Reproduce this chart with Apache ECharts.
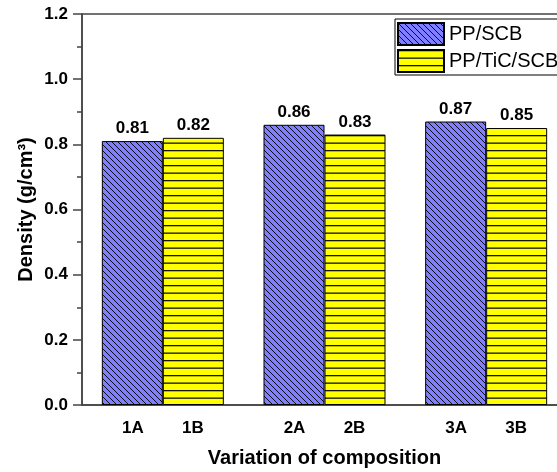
<!DOCTYPE html>
<html>
<head>
<meta charset="utf-8">
<script src="https://cdn.jsdelivr.net/npm/echarts@6/dist/echarts.min.js"></script>
<style>
  html, body { margin: 0; padding: 0; background: #fff; }
  #chart { width: 557px; height: 472px; }
</style>
</head>
<body>
<div id="chart"></div>
<script>
// 数据
var groups = ['1', '2', '3'];
var labelsA = ['1A', '2A', '3A'];
var labelsB = ['1B', '2B', '3B'];
var seriesNames = ['PP/SCB', 'PP/TiC/SCB'];
var scbValues = [0.81, 0.86, 0.87];
var ticValues = [0.82, 0.83, 0.85];
var yTicks = [0.0, 0.2, 0.4, 0.6, 0.8, 1.0, 1.2];

var FONT = 'Liberation Sans';

// 斜线填充
function diagPattern(bg) {
  var c = document.createElement('canvas');
  c.width = 6; c.height = 6;
  var ctx = c.getContext('2d');
  ctx.fillStyle = bg;
  ctx.fillRect(0, 0, 6, 6);
  ctx.strokeStyle = '#000';
  ctx.lineWidth = 0.9;
  ctx.beginPath();
  ctx.moveTo(-6, 0); ctx.lineTo(6, 12);
  ctx.moveTo(-1, -1); ctx.lineTo(7, 7);
  ctx.moveTo(0, -6); ctx.lineTo(12, 6);
  ctx.stroke();
  return { image: c, repeat: 'repeat' };
}
// 横线填充
function horzPattern(bg) {
  var c = document.createElement('canvas');
  c.width = 4; c.height = 15;
  var ctx = c.getContext('2d');
  ctx.fillStyle = bg;
  ctx.fillRect(0, 0, 4, 15);
  ctx.fillStyle = '#111';
  ctx.fillRect(0, 0, 4, 1.3);
  ctx.fillRect(0, 7.5, 4, 1.3);
  return { image: c, repeat: 'repeat' };
}

var axisColor = '#444';
var myChart = echarts.init(document.getElementById('chart'));
var option = {
  animation: false,
  textStyle: { fontFamily: FONT },
  grid: {
    left: 82, right: -10, top: 14, bottom: 67,
    containLabel: false, outerBoundsMode: 'none',
    show: true, borderColor: axisColor, borderWidth: 1.5
  },
  legend: {
    orient: 'vertical',
    left: 395, top: 19,
    padding: [3, 30, 2, 2],
    itemGap: 3,
    itemWidth: 46, itemHeight: 22,
    icon: 'rect',
    borderColor: '#000', borderWidth: 1,
    textStyle: { fontFamily: FONT, fontSize: 20, color: '#000' },
    data: seriesNames
  },
  xAxis: [{
    type: 'category',
    data: groups,
    position: 'bottom',
    name: 'Variation of composition',
    nameLocation: 'middle',
    nameGap: 43,
    nameMoveOverlap: false,
    nameTextStyle: { fontFamily: FONT, fontSize: 20, fontWeight: 'bold', color: '#000' },
    axisLine: { lineStyle: { color: axisColor, width: 1.5 } },
    axisTick: { alignWithLabel: true, length: 8, lineStyle: { color: axisColor, width: 1.5 } },
    axisLabel: {
      margin: 15,
      formatter: function (v, i) {
        return '{a|' + labelsA[i] + '}{b|' + labelsB[i] + '}';
      },
      rich: {
        a: { width: 60, align: 'center', fontFamily: FONT, fontSize: 17, fontWeight: 'bold', color: '#000' },
        b: { width: 60, align: 'center', fontFamily: FONT, fontSize: 17, fontWeight: 'bold', color: '#000' }
      }
    },
    splitLine: { show: false }
  }, {
    type: 'category',
    data: groups,
    position: 'bottom',
    axisLine: { show: false },
    axisTick: { length: 4, lineStyle: { color: axisColor, width: 1.5 } },
    axisLabel: { show: false },
    splitLine: { show: false }
  }],
  yAxis: {
    type: 'value',
    min: yTicks[0], max: yTicks[yTicks.length - 1], interval: 0.2,
    name: 'Density (g/cm³)',
    nameLocation: 'middle',
    nameGap: 46,
    nameMoveOverlap: false,
    nameTextStyle: { fontFamily: FONT, fontSize: 20, fontWeight: 'bold', color: '#000' },
    axisLine: { show: true, lineStyle: { color: axisColor, width: 1.5 } },
    axisTick: { show: true, length: 9, lineStyle: { color: axisColor, width: 1.5 } },
    minorTick: { show: true, splitNumber: 2, length: 5, lineStyle: { color: axisColor, width: 1.5 } },
    axisLabel: {
      margin: 14,
      fontFamily: FONT, fontSize: 17, fontWeight: 'bold', color: '#000',
      formatter: function (v) { return v.toFixed(1); }
    },
    splitLine: { show: false }
  },
  series: [{
    name: seriesNames[0],
    type: 'bar',
    xAxisIndex: 0,
    barWidth: 61,
    barGap: '0%',
    data: scbValues,
    itemStyle: { color: diagPattern('#7f7fff'), borderColor: '#000', borderWidth: 1 },
    label: {
      show: true, position: 'top', distance: 4,
      fontFamily: FONT, fontSize: 17, fontWeight: 'bold', color: '#000',
      formatter: function (p) { return p.value.toFixed(2); }
    }
  }, {
    name: seriesNames[1],
    type: 'bar',
    xAxisIndex: 0,
    barWidth: 61,
    barGap: '0%',
    data: ticValues,
    itemStyle: { color: horzPattern('#ffff00'), borderColor: '#000', borderWidth: 1 },
    label: {
      show: true, position: 'top', distance: 4,
      fontFamily: FONT, fontSize: 17, fontWeight: 'bold', color: '#000',
      formatter: function (p) { return p.value.toFixed(2); }
    }
  }]
};
myChart.setOption(option);
</script>
</body>
</html>
